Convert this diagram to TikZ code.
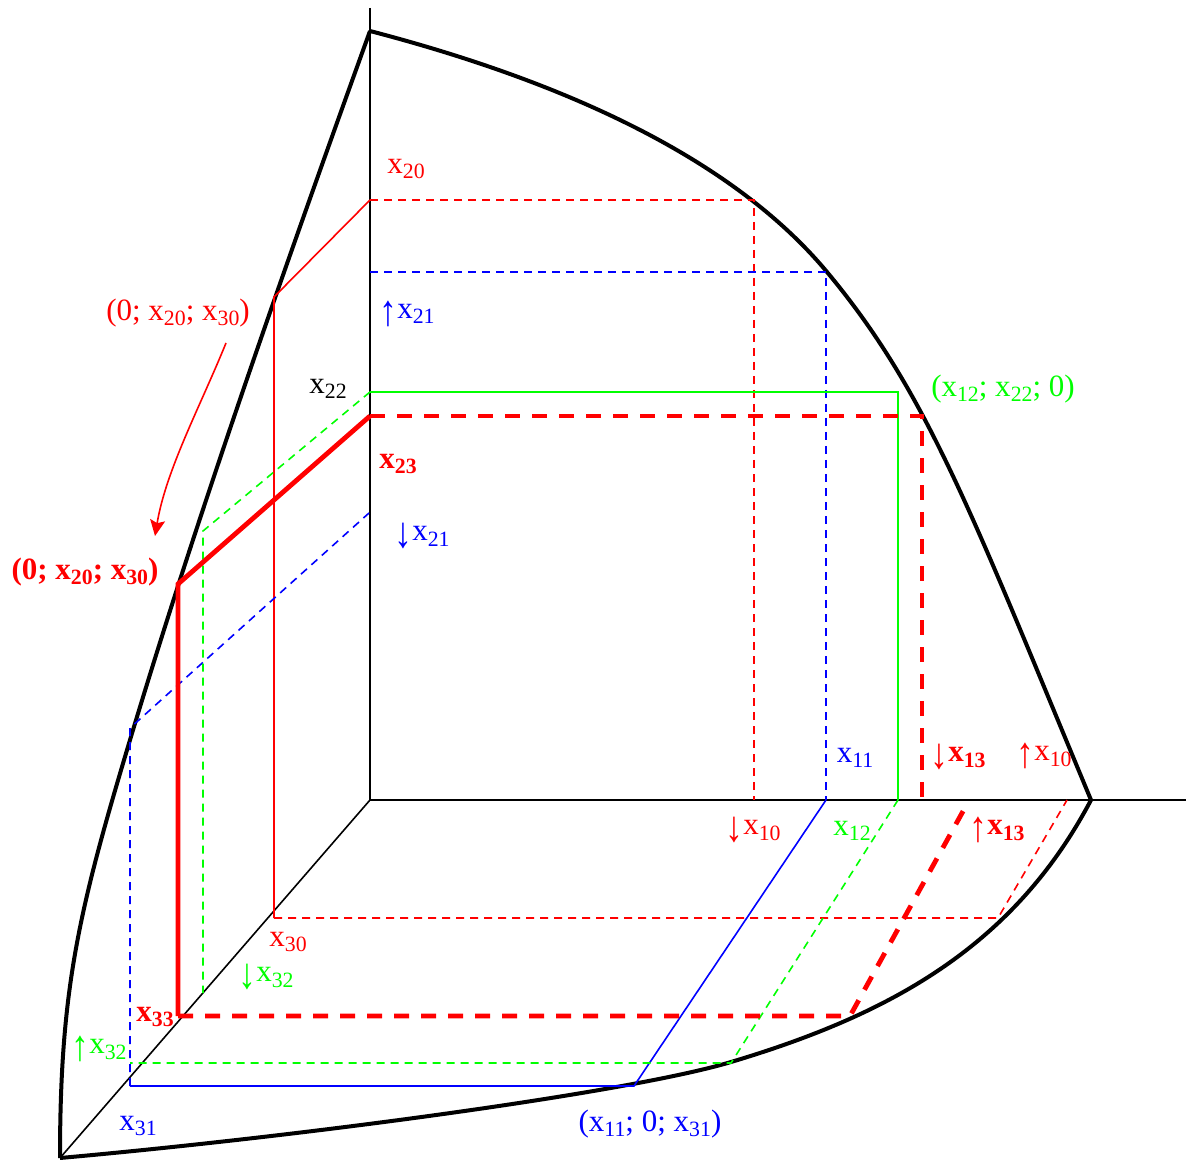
\documentclass[tikz,border=0pt]{standalone}
\usepackage{fontspec}
\usepackage{graphicx}
\setmainfont{Liberation Serif}
\usetikzlibrary{arrows.meta}
\newcommand\sbs[1]{\raisebox{-0.17em}{\fontsize{10.9}{12}\selectfont #1}}
\newcommand\uparw{\raisebox{-0.22em}{\scalebox{1.15}[1.4]{↑}}}
\newcommand\dnarw{\raisebox{-0.22em}{\scalebox{1.15}[1.4]{↓}}}
\definecolor{cred}{RGB}{255,0,0}
\definecolor{cblue}{RGB}{0,0,255}
\definecolor{cgreen}{RGB}{0,255,0}
\tikzset{
  axis/.style={black, line width=0.8pt},
  bound/.style={black, line width=2pt, line join=miter},
  thinsolid/.style={line width=0.8pt},
  thindash/.style={line width=0.8pt, dash pattern=on 4pt off 3pt},
  thicksolid/.style={cred, line width=2.4pt},
  thickdash/.style={cred, line width=2.4pt, dash pattern=on 7.5pt off 6pt},
  lbl/.style={inner sep=0pt, anchor=center, font=\fontsize{15.5}{18}\selectfont},
  blbl/.style={lbl, font=\fontsize{15.5}{18}\selectfont\bfseries},
}
\begin{document}
\begin{tikzpicture}[x=0.5pt,y=-0.5pt]
\useasboundingbox (0,0) rectangle (1188,1160);
% key points
\coordinate (O) at (370,800);
\coordinate (Ytop) at (370,8);
\coordinate (Xend) at (1186,800);
\coordinate (Zend) at (60,1158);
\coordinate (Pt) at (370,31);
\coordinate (Pr) at (1091,800);
\coordinate (Pb) at (60,1158);
\coordinate (Jt) at (827,272);
\coordinate (Jb) at (731,1062);
\coordinate (Jl) at (130,740);
% axes
\draw[axis] (Ytop) -- (O) -- (Xend);
\draw[axis] (O) -- (Zend);
% boundary curves
\draw[bound] (Pt) .. controls (550,78) and (727,152) .. (Jt)
                  .. controls (927,392) and (971,512) .. (Pr);
\draw[bound] (Pr) .. controls (1011,952) and (881,1017) .. (Jb)
                  .. controls (631,1092) and (310,1135.5) .. (Pb);
\draw[bound] (Pt) .. controls (287,261) and (199,510) .. (Jl)
                  .. controls (79,910) and (60,988) .. (Pb);
% red thin (x20)
\coordinate (r1) at (370,200);
\coordinate (r2) at (274,297);
\coordinate (r3) at (274,918);
\coordinate (r4) at (998,918);
\coordinate (r5) at (1067,800);
\coordinate (r6) at (754,200);
\coordinate (r7) at (754,800);
\draw[thinsolid, cred] (r1) -- (r2) -- (r3);
\draw[thindash, cred] (r3) -- (r4) -- (r5);
\draw[thindash, cred] (r1) -- (r6) -- (r7);
% blue (x21)
\coordinate (b1) at (370,272);
\coordinate (b2) at (826,272);
\coordinate (b3) at (826,800);
\coordinate (b4) at (634,1086);
\coordinate (b5) at (130,1086);
\coordinate (b6) at (130,728);
\coordinate (b7) at (369,513);
\draw[thindash, cblue] (b1) -- (b2) -- (b3);
\draw[thinsolid, cblue] (b3) -- (b4) -- (b5);
\draw[thindash, cblue] (b5) -- (b6) -- (b7);
% green (x22)
\coordinate (g1) at (370,392);
\coordinate (g2) at (898,392);
\coordinate (g3) at (898,800);
\coordinate (g4) at (731,1063);
\coordinate (g5) at (130,1063);
\coordinate (g6) at (203,531);
\coordinate (g7) at (203,993);
\draw[thinsolid, cgreen] (g1) -- (g2) -- (g3);
\draw[thindash, cgreen] (g3) -- (g4) -- (g5);
\draw[thindash, cgreen] (g1) -- (g6) -- (g7);
% red thick (x23)
\coordinate (t1) at (370,416);
\coordinate (t2) at (178,584);
\coordinate (t3) at (178,1016);
\coordinate (t4) at (850,1016);
\coordinate (t5) at (967,804);
\coordinate (t6) at (922,416);
\coordinate (t7) at (922,800);
\draw[thicksolid] (t1) -- (t2) -- (t3);
\draw[thickdash] (t3) -- (t4) -- (t5);
\draw[thickdash] (t1) -- (t6) -- (t7);
% labels
\node[lbl, text=cred] (n20) at (406,169) {x\sbs{20}};
\node[lbl, text=cred] (nA) at (178,313) {(0; x\sbs{20}; x\sbs{30})};
\node[blbl, text=cred] (nB) at (85,572) {(0; x\sbs{20}; x\sbs{30})};
\node[lbl, text=black] (n22) at (328,389) {x\sbs{22}};
\node[blbl, text=cred] (n23) at (398,464) {x\sbs{23}};
\node[lbl, text=cblue] (n21u) at (407,314) {\uparw x\sbs{21}};
\node[lbl, text=cblue] (n21d) at (422,536) {\dnarw x\sbs{21}};
\node[lbl, text=cgreen] (nG) at (1003,389) {(x\sbs{12}; x\sbs{22}; 0)};
\node[lbl, text=cblue] (n11) at (855,758) {x\sbs{11}};
\node[blbl, text=cred] (n13d) at (958,757) {\dnarw x\sbs{13}};
\node[lbl, text=cred] (n10u) at (1044,756) {\uparw x\sbs{10}};
\node[lbl, text=cred] (n10d) at (753,830) {\dnarw x\sbs{10}};
\node[lbl, text=cgreen] (n12) at (852,831) {x\sbs{12}};
\node[blbl, text=cred] (n13u) at (997,830) {\uparw x\sbs{13}};
\node[lbl, text=cred] (n30) at (288,942) {x\sbs{30}};
\node[lbl, text=cgreen] (n32d) at (266,977) {\dnarw x\sbs{32}};
\node[blbl, text=cred] (n33) at (155,1017) {x\sbs{33}};
\node[lbl, text=cgreen] (n32u) at (99,1049) {\uparw x\sbs{32}};
\node[lbl, text=cblue] (n31) at (138,1126) {x\sbs{31}};
\node[lbl, text=cblue] (nBl) at (650,1124) {(x\sbs{11}; 0; x\sbs{31})};
% curved arrow
\coordinate (a1) at (226,343);
\coordinate (a2) at (155,536);
\draw[cred, line width=0.8pt, -{Stealth[length=8pt,width=7.5pt,inset=1.5pt]}] (a1) .. controls (200,407) and (166,470) .. (a2);
\end{tikzpicture}
\end{document}
